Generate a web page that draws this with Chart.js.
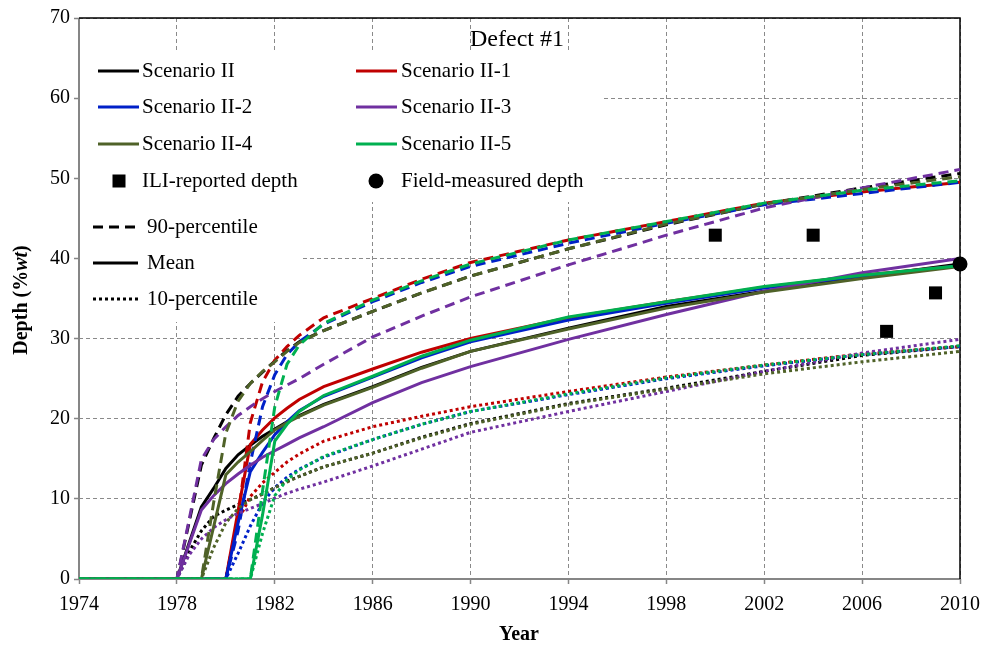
<!DOCTYPE html>
<html>
<head>
<meta charset="utf-8">
<script src="https://cdn.jsdelivr.net/npm/chart.js@4.4.1/dist/chart.umd.min.js"></script>
<style>
html, body { margin: 0; padding: 0; background: #fff; }
</style>
</head>
<body>
<canvas id="chart" width="986" height="647"></canvas>
<script>
'use strict'

// años de la rejilla comun
const years = [1974, 1978, 1978.5, 1979, 1979.5, 1980, 1980.5, 1981, 1981.5, 1982, 1982.5, 1983, 1984, 1986, 1988, 1990, 1994, 1998, 2002, 2006, 2010];

const scenarios = ['Scenario II', 'Scenario II-1', 'Scenario II-2', 'Scenario II-3', 'Scenario II-4', 'Scenario II-5'];

// media (linea continua)
const meanII  = [0, 0, 4.5, 9.0, 11.3, 13.8, 15.5, 16.7, 17.8, 18.7, 19.6, 20.4, 21.8, 24.0, 26.4, 28.4, 31.3, 34.0, 35.9, 37.7, 39.3];
const meanII1 = [0, 0, 0, 0, 0, 0, 8.5, 16.8, 18.6, 20.1, 21.3, 22.4, 24.0, 26.2, 28.3, 30.0, 32.6, 34.6, 36.4, 37.9, 39.1];
const meanII2 = [0, 0, 0, 0, 0, 0, 7.0, 13.4, 15.8, 18.0, 19.6, 21.0, 22.8, 25.2, 27.6, 29.6, 32.3, 34.4, 36.3, 37.8, 39.1];
const meanII3 = [0, 0, 4.3, 8.6, 10.4, 11.9, 13.1, 14.2, 15.2, 16.0, 16.8, 17.6, 19.0, 22.0, 24.5, 26.5, 29.9, 33.0, 35.9, 38.2, 40.0];
const meanII4 = [0, 0, 0, 0, 6.5, 13.0, 14.6, 15.9, 17.3, 18.6, 19.5, 20.3, 21.7, 23.9, 26.3, 28.4, 31.2, 33.8, 35.8, 37.5, 39.0];
const meanII5 = [0, 0, 0, 0, 0, 0, 0, 0, 8.0, 17.2, 19.3, 20.9, 22.9, 25.3, 27.8, 29.8, 32.7, 34.6, 36.5, 37.9, 39.1];

// percentil 90 (discontinua)
const p90II  = [0, 0, 7.1, 14.2, 17.5, 20.5, 22.8, 24.4, 25.8, 27.2, 28.5, 29.6, 31.0, 33.4, 35.7, 37.8, 41.2, 44.2, 46.8, 48.8, 50.6];
const p90II1 = [0, 0, 0, 0, 0, 0, 7.8, 19.5, 24.6, 27.3, 29.0, 30.4, 32.6, 35.0, 37.4, 39.5, 42.3, 44.6, 46.9, 48.3, 49.5];
const p90II2 = [0, 0, 0, 0, 0, 0, 6.0, 14.5, 21.5, 25.5, 28.0, 29.6, 31.8, 34.6, 37.0, 39.0, 41.9, 44.4, 46.7, 48.1, 49.5];
const p90II3 = [0, 0, 7.4, 14.9, 17.4, 19.0, 20.4, 21.5, 22.5, 23.4, 24.2, 25.0, 26.8, 30.2, 32.8, 35.2, 39.2, 42.9, 46.3, 48.8, 51.1];
const p90II4 = [0, 0, 0, 0, 9.5, 18.2, 22.2, 24.4, 25.9, 27.1, 28.4, 29.5, 31.0, 33.4, 35.7, 37.8, 41.2, 44.3, 46.8, 48.6, 50.2];
const p90II5 = [0, 0, 0, 0, 0, 0, 0, 0, 11.0, 21.5, 26.8, 29.2, 31.9, 34.8, 37.2, 39.3, 42.3, 44.6, 46.9, 48.5, 49.7];

// percentil 10 (punteada)
const p10II  = [0, 0, 3.4, 6.0, 7.8, 8.6, 9.3, 9.9, 10.6, 11.4, 12.2, 12.8, 14.0, 15.7, 17.7, 19.4, 21.9, 23.8, 25.9, 27.9, 29.0];
const p10II1 = [0, 0, 0, 0, 0, 0, 7.3, 10.3, 12.0, 13.3, 14.6, 15.6, 17.2, 19.0, 20.3, 21.5, 23.4, 25.2, 26.7, 28.1, 29.0];
const p10II2 = [0, 0, 0, 0, 0, 0, 3.2, 6.6, 9.5, 11.4, 12.7, 13.7, 15.2, 17.4, 19.3, 20.9, 23.0, 25.0, 26.6, 28.0, 29.0];
const p10II3 = [0, 0, 3.0, 5.0, 6.4, 7.4, 8.2, 8.8, 9.4, 10.1, 10.7, 11.2, 12.1, 14.1, 16.2, 18.3, 20.9, 23.4, 25.9, 28.2, 29.9];
const p10II4 = [0, 0, 0, 0, 3.9, 7.0, 8.8, 9.9, 10.6, 11.4, 12.1, 12.8, 14.0, 15.7, 17.6, 19.3, 21.8, 23.7, 25.6, 27.1, 28.4];
const p10II5 = [0, 0, 0, 0, 0, 0, 0, 0, 5.7, 10.4, 12.4, 13.6, 15.3, 17.4, 19.3, 20.9, 23.1, 25.1, 26.7, 28.0, 29.1];

// medidas
const iliYears = [2000, 2004, 2007, 2009];
const iliDepth = [42.9, 42.9, 30.9, 35.7];
const fieldYears = [2010];
const fieldDepth = [39.3];

const xTicks = [1974, 2010, 4];
const yTicks = [0, 70, 10];

const colores = ['#000000', '#C00000', '#0020C8', '#7030A0', '#4F6228', '#00B050'];
const FONT = 'Liberation Serif';
const ANCHO = 3;

function serie(label, vals, color, dash, order) {
    return {
        label: label,
        data: years.map((x, i) => ({ x: x, y: vals[i] })),
        borderColor: color,
        backgroundColor: color,
        borderWidth: ANCHO,
        borderDash: dash,
        pointRadius: 0,
        fill: false,
        tension: 0,
        order: order
    };
}

const means = [meanII, meanII1, meanII2, meanII3, meanII4, meanII5];
const p90s = [p90II, p90II1, p90II2, p90II3, p90II4, p90II5];
const p10s = [p10II, p10II1, p10II2, p10II3, p10II4, p10II5];

const datasets = [];
for (let i = 0; i < scenarios.length; i++) {
    const ord = 6 - i;
    datasets.push(serie(scenarios[i] + ' 90', p90s[i], colores[i], [10, 6], ord));
    datasets.push(serie(scenarios[i], means[i], colores[i], [], ord));
    datasets.push(serie(scenarios[i] + ' 10', p10s[i], colores[i], [3, 3], ord));
}
datasets.push({
    label: 'ILI-reported depth',
    data: iliYears.map((x, i) => ({ x: x, y: iliDepth[i] })),
    showLine: false, pointStyle: 'rect', pointRadius: 9.2,
    backgroundColor: '#000', borderColor: '#000', borderWidth: 0, order: 0, clip: false
});
datasets.push({
    label: 'Field-measured depth',
    data: fieldYears.map((x, i) => ({ x: x, y: fieldDepth[i] })),
    showLine: false, pointStyle: 'circle', pointRadius: 7.5,
    backgroundColor: '#000', borderColor: '#000', borderWidth: 0, order: 0, clip: false
});

function linea(ctx, x1, x2, y, color, dash) {
    ctx.save();
    ctx.strokeStyle = color;
    ctx.lineWidth = ANCHO;
    ctx.setLineDash(dash);
    ctx.beginPath();
    ctx.moveTo(x1, y);
    ctx.lineTo(x2, y);
    ctx.stroke();
    ctx.restore();
}

const extras = {
    id: 'extras',
    beforeDatasetsDraw(chart) {
        const ctx = chart.ctx;
        const a = chart.chartArea;
        ctx.save();
        // fondo blanco de la leyenda
        ctx.fillStyle = '#fff';
        ctx.fillRect(a.left + 1, 52, 603 - a.left, 150);
        ctx.fillRect(a.left + 1, 202, 300 - a.left, 120);
        // marco
        ctx.setLineDash([]);
        ctx.lineWidth = 2;
        ctx.strokeStyle = '#868686';
        ctx.beginPath();
        ctx.moveTo(a.left, a.top);
        ctx.lineTo(a.left, a.bottom);
        ctx.lineTo(a.right, a.bottom);
        ctx.stroke();
        ctx.lineWidth = 1.5;
        ctx.strokeStyle = '#000';
        ctx.beginPath();
        ctx.moveTo(a.left, a.top);
        ctx.lineTo(a.right, a.top);
        ctx.lineTo(a.right, a.bottom);
        ctx.stroke();
        ctx.restore();
    },
    afterDatasetsDraw(chart) {
        const ctx = chart.ctx;
        ctx.save();
        ctx.fillStyle = '#000';
        ctx.textBaseline = 'middle';
        ctx.textAlign = 'center';
        ctx.font = '24px "' + FONT + '"';
        ctx.fillText('Defect #1', 517, 40);

        ctx.font = '21px "' + FONT + '"';
        ctx.textAlign = 'left';
        const filas = [71, 107, 144];
        for (let i = 0; i < scenarios.length; i++) {
            const col = i % 2;
            const y = filas[Math.floor(i / 2)];
            const x0 = col === 0 ? 98 : 356;
            linea(ctx, x0, x0 + 41, y, colores[i], []);
            ctx.fillText(scenarios[i], col === 0 ? 142 : 401, y);
        }
        // marcadores
        ctx.fillRect(119 - 6.5, 181 - 6.5, 13, 13);
        ctx.fillText('ILI-reported depth', 142, 181);
        ctx.beginPath();
        ctx.arc(376, 181, 7.5, 0, Math.PI * 2);
        ctx.fill();
        ctx.fillText('Field-measured depth', 401, 181);

        linea(ctx, 93, 138, 227, '#000', [10, 6]);
        ctx.fillText('90-percentile', 147, 227);
        linea(ctx, 93, 138, 263, '#000', []);
        ctx.fillText('Mean', 147, 263);
        linea(ctx, 93, 138, 299, '#000', [3, 3]);
        ctx.fillText('10-percentile', 147, 299);

        // titulos de ejes
        ctx.textAlign = 'center';
        ctx.font = 'bold 20px "' + FONT + '"';
        ctx.fillText('Year', 519, 635);

        ctx.translate(22, 300);
        ctx.rotate(-Math.PI / 2);
        const f1 = 'bold 20px "' + FONT + '"';
        const f2 = 'italic bold 20px "' + FONT + '"';
        const partes = [['Depth (%', f1], ['wt', f2], [')', f1]];
        let total = 0;
        partes.forEach(p => { ctx.font = p[1]; total += ctx.measureText(p[0]).width; });
        let x = -total / 2;
        ctx.textAlign = 'left';
        partes.forEach(p => {
            ctx.font = p[1];
            ctx.fillText(p[0], x, 0);
            x += ctx.measureText(p[0]).width;
        });
        ctx.restore();
    }
};

const ctx = document.getElementById('chart').getContext('2d');
const myChart = new Chart(ctx, {
    type: 'line',
    data: { datasets: datasets },
    options: {
        responsive: false,
        animation: false,
        layout: { padding: { left: 0, right: 26, top: 18, bottom: 0 } },
        plugins: { legend: { display: false }, tooltip: { enabled: false } },
        scales: {
            x: {
                type: 'linear',
                min: xTicks[0], max: xTicks[1],
                afterFit: s => { s.height = 68; s.paddingLeft = 0; s.paddingRight = 0; },
                ticks: {
                    stepSize: xTicks[2],
                    padding: 9,
                    color: '#000',
                    font: { family: FONT, size: 20 },
                    maxRotation: 0,
                    callback: v => String(v)
                },
                grid: { color: '#8a8a8a', lineWidth: 1, tickLength: 5, tickColor: '#868686', tickWidth: 1.5 },
                border: { display: false, dash: [4, 3] }
            },
            y: {
                min: yTicks[0], max: yTicks[1],
                afterFit: s => { s.width = 79; s.paddingTop = 0; s.paddingBottom = 0; },
                ticks: {
                    stepSize: yTicks[2],
                    padding: 4,
                    color: '#000',
                    font: { family: FONT, size: 20 }
                },
                grid: { color: '#8a8a8a', lineWidth: 1, tickLength: 5, tickColor: '#868686', tickWidth: 1.5 },
                border: { display: false, dash: [4, 3] }
            }
        }
    },
    plugins: [extras]
});
</script>
</body>
</html>
